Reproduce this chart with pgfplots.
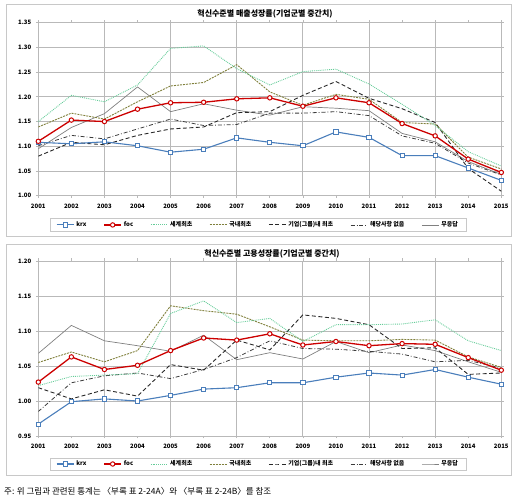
\documentclass[border=0pt]{standalone}
\usepackage{fontspec}
\setmainfont{Noto Sans CJK KR}
\usepackage{pgfplots}
\pgfplotsset{compat=1.18}
\usepackage{pgfplotstable}

\definecolor{ckrx}{RGB}{74,126,187}
\definecolor{cfoc}{RGB}{204,0,0}
\definecolor{cworld}{RGB}{102,204,153}
\definecolor{cdom}{RGB}{128,128,60}
\definecolor{cfirm}{RGB}{40,40,40}
\definecolor{cnone}{RGB}{60,60,60}
\definecolor{cnoans}{RGB}{128,128,128}
\definecolor{cgrid}{RGB}{185,185,185}
\definecolor{cframe}{RGB}{200,200,200}

\pgfplotstableread{
year krx foc world dom firm none noans
2001 1.108 1.110 1.150 1.139 1.080 1.101 1.095
2002 1.105 1.153 1.203 1.167 1.108 1.122 1.138
2003 1.109 1.150 1.190 1.155 1.103 1.115 1.166
2004 1.101 1.175 1.224 1.190 1.122 1.135 1.220
2005 1.088 1.188 1.298 1.222 1.135 1.155 1.170
2006 1.094 1.189 1.303 1.229 1.139 1.142 1.186
2007 1.117 1.196 1.257 1.265 1.168 1.144 1.173
2008 1.108 1.198 1.224 1.210 1.170 1.167 1.163
2009 1.101 1.181 1.251 1.183 1.203 1.167 1.180
2010 1.129 1.198 1.256 1.205 1.231 1.170 1.177
2011 1.118 1.188 1.226 1.195 1.197 1.162 1.172
2012 1.081 1.146 1.185 1.148 1.176 1.121 1.126
2013 1.081 1.121 1.142 1.145 1.148 1.106 1.109
2014 1.056 1.074 1.089 1.078 1.055 1.066 1.069
2015 1.031 1.047 1.060 1.054 1.009 1.042 1.043
}\salesdata

\pgfplotstableread{
year krx foc world dom firm none noans
2001 0.967 1.027 1.022 1.055 1.019 0.985 1.068
2002 0.999 1.063 1.035 1.070 1.003 1.026 1.108
2003 1.003 1.045 1.037 1.056 1.016 1.036 1.086
2004 1.000 1.051 1.039 1.072 1.007 1.040 1.079
2005 1.008 1.072 1.125 1.136 1.052 1.032 1.071
2006 1.017 1.090 1.143 1.129 1.044 1.045 1.094
2007 1.019 1.087 1.112 1.124 1.087 1.062 1.059
2008 1.026 1.096 1.118 1.106 1.073 1.086 1.069
2009 1.026 1.080 1.085 1.087 1.123 1.075 1.060
2010 1.034 1.085 1.109 1.086 1.118 1.074 1.085
2011 1.040 1.079 1.109 1.086 1.109 1.071 1.069
2012 1.037 1.082 1.110 1.088 1.075 1.067 1.080
2013 1.045 1.081 1.116 1.087 1.076 1.056 1.072
2014 1.034 1.062 1.086 1.063 1.038 1.058 1.056
2015 1.024 1.044 1.072 1.048 1.040 1.047 1.041
}\empdata

\pgfplotsset{
  skrx/.style={ckrx, line width=1.1pt, mark=square*, mark size=2.1pt, mark options={solid, fill=white, draw=ckrx, line width=0.9pt}},
  sfoc/.style={cfoc, line width=1.3pt, mark=*, mark size=2.2pt, mark options={solid, fill=white, draw=cfoc, line width=1.0pt}},
  sworld/.style={cworld, line width=0.9pt, densely dotted, no markers},
  sdom/.style={cdom, line width=0.9pt, dash pattern=on 2pt off 1pt, no markers},
  sfirm/.style={cfirm, line width=0.9pt, dash pattern=on 4pt off 2.5pt, no markers},
  snone/.style={cnone, line width=0.8pt, dash pattern=on 4pt off 2pt on 0.8pt off 2pt, no markers},
  snoans/.style={cnoans, line width=0.7pt, no markers},
  mychart/.style={
    scale only axis, width=463pt,
    xmin=2001, xmax=2015,
    xtick={2001,2003,2005,2007,2009,2011,2013,2015},
    extra x ticks={2002,2004,2006,2008,2010,2012,2014},
    extra x tick style={grid=none},
    xmajorgrids, ymajorgrids,
    grid style={cgrid, line width=0.8pt},
    axis line style={cgrid, line width=0.8pt},
    tick style={cgrid, line width=0.7pt},
    tick align=outside, major tick length=2.5pt,
    /pgf/number format/assume math mode=true,
    /pgf/number format/1000 sep={},
    y tick label style={/pgf/number format/fixed, /pgf/number format/fixed zerofill, /pgf/number format/precision=2},
    tick label style={font=\fontsize{6}{7}\selectfont\bfseries},
    xticklabel shift=2pt, yticklabel shift=1pt,
    legend columns=7,
    legend style={font=\fontsize{6}{7}\selectfont\bfseries, draw=cframe, inner xsep=6pt, inner ysep=1pt,
      /tikz/every even column/.append style={column sep=15pt}, anchor=center},
  },
}

\begin{document}
\begin{tikzpicture}
\path[use as bounding box] (0,0) rectangle (521pt,502pt);
\draw[cframe, line width=0.8pt] (6pt,266pt) rectangle (511pt,497.5pt);
\draw[cframe, line width=0.8pt] (6pt,27pt) rectangle (511pt,258pt);

\begin{axis}[mychart, at={(38.3pt,306.3pt)}, anchor=south west, height=173pt,
  ymin=1.00, ymax=1.35, ytick={1,1.05,1.1,1.15,1.2,1.25,1.3,1.35},
  legend style={at={(0.4745,-0.169)}}]
\addlegendimage{skrx}\addlegendentry{krx}
\addlegendimage{sfoc}\addlegendentry{foc}
\addlegendimage{sworld}\addlegendentry{세계최초}
\addlegendimage{sdom}\addlegendentry{국내최초}
\addlegendimage{sfirm}\addlegendentry{기업(그룹)내 최초}
\addlegendimage{snone}\addlegendentry{해당사항 없음}
\addlegendimage{snoans}\addlegendentry{무응답}
\addplot[snoans, forget plot] table[x=year,y=noans]{\salesdata};
\addplot[snone, forget plot] table[x=year,y=none]{\salesdata};
\addplot[sfirm, forget plot] table[x=year,y=firm]{\salesdata};
\addplot[sdom, forget plot] table[x=year,y=dom]{\salesdata};
\addplot[sworld, forget plot] table[x=year,y=world]{\salesdata};
\addplot[skrx, forget plot] table[x=year,y=krx]{\salesdata};
\addplot[sfoc, forget plot] table[x=year,y=foc]{\salesdata};
\end{axis}

\begin{axis}[mychart, at={(38.3pt,66pt)}, anchor=south west, height=175pt,
  ymin=0.95, ymax=1.20, ytick={0.95,1,1.05,1.1,1.15,1.2},
  legend style={at={(0.4745,-0.16)}}]
\addlegendimage{skrx}\addlegendentry{krx}
\addlegendimage{sfoc}\addlegendentry{foc}
\addlegendimage{sworld}\addlegendentry{세계최초}
\addlegendimage{sdom}\addlegendentry{국내최초}
\addlegendimage{sfirm}\addlegendentry{기업(그룹)내 최초}
\addlegendimage{snone}\addlegendentry{해당사항 없음}
\addlegendimage{snoans}\addlegendentry{무응답}
\addplot[snoans, forget plot] table[x=year,y=noans]{\empdata};
\addplot[snone, forget plot] table[x=year,y=none]{\empdata};
\addplot[sfirm, forget plot] table[x=year,y=firm]{\empdata};
\addplot[sdom, forget plot] table[x=year,y=dom]{\empdata};
\addplot[sworld, forget plot] table[x=year,y=world]{\empdata};
\addplot[skrx, forget plot] table[x=year,y=krx]{\empdata};
\addplot[sfoc, forget plot] table[x=year,y=foc]{\empdata};
\end{axis}

\node[font=\fontsize{8}{9}\selectfont\bfseries, inner sep=0pt] at (265pt,488pt) {혁신수준별 매출성장률(기업군별 중간치)};
\node[font=\fontsize{8}{9}\selectfont\bfseries, inner sep=0pt] at (272pt,248pt) {혁신수준별 고용성장률(기업군별 중간치)};
\node[font=\fontsize{8.5}{10}\selectfont, anchor=west, inner sep=0pt] at (4pt,11pt) {주: 위 그림과 관련된 통계는 〈부록 표 2-24A〉와 〈부록 표 2-24B〉를 참조};
\end{tikzpicture}
\end{document}
